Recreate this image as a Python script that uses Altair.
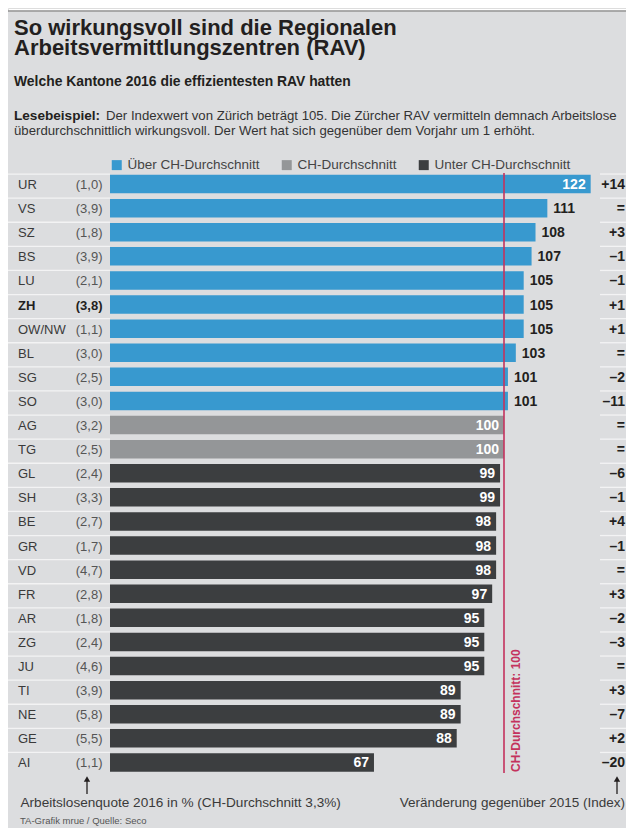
import altair as alt
import pandas as pd

# ---------------- data ----------------
cantons = ["UR", "VS", "SZ", "BS", "LU", "ZH", "OW/NW", "BL", "SG", "SO", "AG", "TG", "GL",
           "SH", "BE", "GR", "VD", "FR", "AR", "ZG", "JU", "TI", "NE", "GE", "AI"]
quote = ["1,0", "3,9", "1,8", "3,9", "2,1", "3,8", "1,1", "3,0", "2,5", "3,0", "3,2", "2,5", "2,4",
         "3,3", "2,7", "1,7", "4,7", "2,8", "1,8", "2,4", "4,6", "3,9", "5,8", "5,5", "1,1"]
index_2016 = [122, 111, 108, 107, 105, 105, 105, 103, 101, 101, 100, 100, 99,
              99, 98, 98, 98, 97, 95, 95, 95, 89, 89, 88, 67]
change = ["+14", "=", "+3", "–1", "–1", "+1", "+1", "=", "–2", "–11", "=", "=", "–6",
          "–1", "+4", "–1", "=", "+3", "–2", "–3", "=", "+3", "–7", "+2", "–20"]
categories = ["Über CH-Durchschnitt", "CH-Durchschnitt", "Unter CH-Durchschnitt"]
highlight = "ZH"
average = 100

title_lines = ["So wirkungsvoll sind die Regionalen", "Arbeitsvermittlungszentren (RAV)"]
subtitle = "Welche Kantone 2016 die effizientesten RAV hatten"
read_bold = "Lesebeispiel:"
read_line1 = "Der Indexwert von Zürich beträgt 105. Die Zürcher RAV vermitteln demnach Arbeitslose"
read_line2 = "überdurchschnittlich wirkungsvoll. Der Wert hat sich gegenüber dem Vorjahr um 1 erhöht."
avg_label = "CH-Durchschnitt: 100"
foot_left = "Arbeitslosenquote 2016 in % (CH-Durchschnitt 3,3%)"
foot_right = "Veränderung gegenüber 2015 (Index)"
source = "TA-Grafik mrue / Quelle: Seco"

# ---------------- styling ----------------
W, H = 618, 820
FONT = "Liberation Sans"
BG = "#dcdddf"
BLUE = "#3899cf"
GRAY = "#949698"
DARK = "#3c3e40"
RED = "#c4325d"
SEP = "#f3f3f4"
TXT = "#231f20"

def cat(v):
    if v > average:
        return categories[0]
    if v == average:
        return categories[1]
    return categories[2]

df = pd.DataFrame({
    "kanton": cantons,
    "quote": ["(" + q + ")" for q in quote],
    "index": index_2016,
    "change": change,
})
df["cat"] = df["index"].map(cat)
df["pos"] = ["out" if (c == categories[0] and v < 115) else "in"
             for c, v in zip(df["cat"], df["index"])]
df["hl"] = df["kanton"] == highlight

xscale = alt.Scale(domain=[0, 122], range=[102, 102 + 122 * 3.94], nice=False, zero=True)
yscale = alt.Scale(domain=cantons, range=[164, 766.5], paddingInner=0, paddingOuter=0)
Y = alt.Y("kanton:N", sort=cantons, scale=yscale, axis=None)
X = alt.X("index:Q", scale=xscale, axis=None)

base = alt.Chart(df)
one = alt.Chart(pd.DataFrame({"k": [0]}))

bg = one.mark_rect(color=BG).encode(
    x=alt.value(0), x2=alt.value(W), y=alt.value(3.5), y2=alt.value(H))
topline = one.mark_rule(color="#8f8f8f", strokeWidth=1.5).encode(
    x=alt.value(0), x2=alt.value(W), y=alt.value(3))

def txt(s, x, y, size, weight="normal", color=TXT, align="left", font=FONT):
    return one.mark_text(align=align, baseline="alphabetic", fontSize=size,
                         fontWeight=weight, color=color, font=font).encode(
        x=alt.value(x), y=alt.value(y), text=alt.value(s))

titles = [
    txt(title_lines[0], 6, 27, 22, "bold"),
    txt(title_lines[1], 6, 47, 22, "bold"),
    txt(subtitle, 6, 78, 13.9, "bold"),
    txt(read_bold, 6, 111.5, 13.6, "bold"),
    txt(read_line1, 98, 111.5, 13.2, "normal", "#333333"),
    txt(read_line2, 6, 126.5, 13.2, "normal", "#333333"),
    txt(foot_left, 12.5, 798.5, 13.6, "normal", "#3a3a3a"),
    txt(foot_right, 617, 798.5, 13.5, "normal", "#3a3a3a", align="right"),
    txt(source, 12, 816, 9.5, "normal", "#555555"),
]

sep_left = base.mark_rule(color=SEP, strokeWidth=1.3, yOffset=-10).encode(
    y=Y, x=alt.value(-2), x2=alt.value(102))
sep_right = base.mark_rule(color=SEP, strokeWidth=1.3, yOffset=-10).encode(
    y=Y, x=alt.value(592), x2=alt.value(618))

bars = base.mark_bar(height=18.5).encode(
    x=X,
    y=Y,
    color=alt.Color("cat:N", scale=alt.Scale(domain=categories, range=[BLUE, GRAY, DARK]),
                    legend=alt.Legend(title=None, orient="none", legendX=102, legendY=150,
                                      direction="horizontal", symbolType="square",
                                      symbolSize=100, symbolStrokeWidth=0, labelOffset=4,
                                      columnPadding=20, labelFontSize=13.5, labelFont=FONT,
                                      labelColor="#444444", padding=0)),
)

avg_rule = one.mark_rule(color=RED, strokeWidth=1.6).encode(
    x=alt.datum(average), y=alt.value(165), y2=alt.value(765))
avg_text = one.mark_text(angle=270, align="left", baseline="top", xOffset=7, color=RED,
                         fontWeight="bold", fontSize=12, font=FONT).encode(
    x=alt.datum(average), y=alt.value(764), text=alt.value(avg_label))

val_out = base.transform_filter(alt.datum.pos == "out").mark_text(
    align="left", dx=6, dy=1, fontWeight="bold", fontSize=14, font=FONT, color=TXT).encode(
    x="index:Q", y=Y, text="index:Q")
val_in = base.transform_filter(alt.datum.pos == "in").mark_text(
    align="right", dx=-5, dy=1, fontWeight="bold", fontSize=14, font=FONT, color="white").encode(
    x="index:Q", y=Y, text="index:Q")

lab_norm = base.transform_filter("!datum.hl").mark_text(
    align="left", dy=1, fontSize=13, font=FONT, color="#3a3a3a").encode(
    x=alt.value(10), y=Y, text="kanton:N")
lab_bold = base.transform_filter("datum.hl").mark_text(
    align="left", dy=1, fontSize=13, font=FONT, fontWeight="bold", color=TXT).encode(
    x=alt.value(10), y=Y, text="kanton:N")
q_norm = base.transform_filter("!datum.hl").mark_text(
    align="right", dy=1, fontSize=13, font=FONT, color="#555555").encode(
    x=alt.value(94.5), y=Y, text="quote:N")
q_bold = base.transform_filter("datum.hl").mark_text(
    align="right", dy=1, fontSize=13, font=FONT, fontWeight="bold", color=TXT).encode(
    x=alt.value(94.5), y=Y, text="quote:N")
chg = base.mark_text(align="right", dy=1, fontSize=14, font=FONT, fontWeight="bold",
                     color=TXT).encode(x=alt.value(617), y=Y, text="change:N")

arrow_l = one.mark_rule(color=TXT, strokeWidth=1.3).encode(
    x=alt.value(79), y=alt.value(770), y2=alt.value(786))
arrow_r = one.mark_rule(color=TXT, strokeWidth=1.3).encode(
    x=alt.value(609), y=alt.value(770), y2=alt.value(786))
head_l = one.mark_point(shape="triangle-up", filled=True, size=40, color=TXT, opacity=1).encode(
    x=alt.value(79), y=alt.value(771))
head_r = one.mark_point(shape="triangle-up", filled=True, size=40, color=TXT, opacity=1).encode(
    x=alt.value(609), y=alt.value(771))

chart = alt.layer(
    bg, topline, sep_left, sep_right, bars, avg_rule, avg_text, val_out, val_in,
    lab_norm, lab_bold, q_norm, q_bold, chg, arrow_l, arrow_r, head_l, head_r, *titles
).properties(
    width=W, height=H, padding=0,
    autosize=alt.AutoSizeParams(type="none"),
).configure_view(stroke=None).configure(background="white")

chart.save("out.html", embed_options={"renderer": "svg", "actions": False})
